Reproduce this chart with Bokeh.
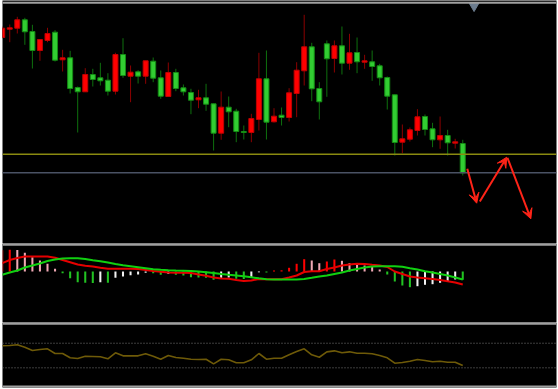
from bokeh.plotting import figure
from bokeh.layouts import column
from bokeh.models import Span, Arrow, VeeHead, ColumnDataSource
from bokeh.embed import file_html
from bokeh.resources import INLINE

# ---------------- data ----------------
opens = [213, 221.3, 222.3, 230.7, 219, 200, 210, 218.3, 190.7, 192.7,
         163, 158.7, 176, 172.7, 170.3, 159.3, 196, 174.3, 178.7, 174.3,
         189.3, 172.7, 154, 178, 162.7, 158, 150.7, 152.7, 146.7, 117.3,
         143.3, 139.3, 119, 118, 131, 171.7, 128.7, 135.3, 133, 157,
         179.7, 203.7, 162, 206.7, 192, 204.7, 187.3, 198, 188.3, 188.7,
         184.7, 173, 155.7, 108.3, 111.3, 120, 134, 121.7, 110.7, 115,
         107.3, 107]
closes = [222.3, 222.7, 230.7, 218.7, 200, 211, 217, 190.3, 192.7, 162,
          158.7, 176, 171, 169.7, 159.3, 196, 175, 178.3, 174.3, 189.7,
          172.3, 154.3, 178, 162, 158.7, 150.3, 152.7, 146.3, 117.3, 143.3,
          138.7, 119, 118, 132, 171.7, 128.3, 134.3, 133, 157.7, 180.3,
          203.7, 161.7, 148.7, 191.7, 204.7, 187.3, 197.7, 188.7, 189.7, 184,
          172.7, 154.3, 108, 111.7, 120.7, 133.7, 121, 110.7, 115, 107.7,
          108.7, 77.7]
highs = [224, 226, 233.7, 232.7, 225.7, 211, 222.7, 220.3, 200.7, 199.7,
         164, 182.3, 181.7, 187.7, 177.3, 197.7, 212.3, 185, 180.3, 189.7,
         193, 180, 188, 181.7, 166, 161.7, 160.7, 166.7, 147, 159,
         154, 141.7, 125, 136.7, 197.7, 200, 142.3, 143, 162.3, 188.3,
         235.7, 207.7, 168.3, 210, 210, 224, 216.7, 213, 195.7, 200,
         186.7, 174, 156, 126, 123, 141.3, 136, 127.7, 134, 120.7,
         111.7, 110.7]
lows = [212, 208.3, 217, 205.7, 182, 189.7, 208.3, 189, 179, 157,
        118, 158.7, 164, 165, 155, 156, 172.7, 148.3, 167, 166.7,
        168.3, 151.7, 154, 159.3, 155, 136.3, 142.3, 139.7, 100, 110.7,
        123.3, 108.3, 111, 108.3, 120, 111, 128, 125, 129, 133.3,
        165, 149.3, 131, 153.7, 178, 176, 180.7, 177.3, 181.7, 169.7,
        165, 141, 95, 97.3, 109, 115, 115, 103.3, 101.7, 95,
        102, 75]

support_level = 96.3

macd_hist = [21.3, 21.7, 21.5, 18.7, 14.3, 11, 7.7, 2.7, -1.7, -6.7,
             -10.7, -11.3, -11.5, -10.7, -11.3, -6.3, -5, -3.7, -3, -1.3,
             -1.7, -3.3, -2.3, -3.3, -4, -5.7, -6, -6.2, -8.3, -6.3,
             -6.0, -7.3, -7.5, -5.7, -0.8, -1.0, 1, 1.2, 3.7, 7.7,
             12.3, 11, 8.3, 10, 12, 10.7, 8.3, 7.7, 6, 5,
             2, -3, -10, -14, -15.7, -14.7, -13.3, -12.7, -11.3, -9.7,
             -8, -8.3]
macd_signal = [8.3, 11.5, 13.5, 15, 15, 15, 15, 13.7, 11.5, 9.3,
               7, 5.7, 5, 3.7, 2.7, 2.7, 2.7, 2.7, 2.5, 1.5,
               0.5, -0.2, -1, -1.3, -1.3, -1.5, -3, -4.3, -6, -7,
               -7.3, -8.5, -9.5, -9, -7.5, -7.7, -7.7, -7.7, -6, -4,
               -0.5, 0.3, 0.3, 2.5, 4, 6, 7, 7.7, 7.5, 6.7,
               6, 4.5, 0, -2.5, -5, -6, -6.7, -7.5, -8.5, -9.7,
               -11, -13]
macd_main = [-3.3, -1, 1, 4, 6, 8, 10.5, 12, 13, 13.3,
             13.3, 12.5, 11.3, 10.3, 9, 7.5, 6.3, 5.3, 4.3, 3.3,
             2.3, 1.7, 1.3, 1, 0.8, 0.5, 0, -0.7, -1.5, -2.5,
             -3.3, -4, -4.8, -5.8, -6.8, -7.7, -8, -8, -8, -8,
             -7.5, -6.3, -5, -4, -2.5, -1, 1, 2.5, 4, 5,
             5.2, 5.3, 5.3, 4.7, 3.3, 2, 0.3, -1, -2.5, -4,
             -6, -8]

rsi = [65.8, 66.3, 67.4, 63.5, 58.1, 59.8, 60.9, 53.3, 53.3, 46.3,
       45.1, 48.9, 48.4, 47.9, 44.6, 54.4, 49.5, 49.5, 49.5, 52.8,
       48.9, 44.0, 50.0, 46.7, 45.6, 44.0, 43.5, 44.0, 36.5, 44.0,
       43.0, 38.2, 38.2, 43.0, 53.3, 44.0, 45.6, 45.6, 51.1, 56.5,
       60.9, 51.1, 47.2, 56.0, 57.6, 54.4, 56.0, 53.7, 53.7, 52.8,
       50.0, 46.3, 37.5, 38.6, 40.7, 43.5, 41.9, 39.8, 40.7, 39.1,
       39.1, 33.7]
rsi_levels = [70, 30]

# drawn annotation arrows (bar index, price)
arrow_x0 = [61.6, 63.26, 66.92]
arrow_y0 = [81.7, 49.0, 92.7]
arrow_x1 = [62.85, 66.83, 70.02]
arrow_y1 = [47.3, 93.3, 31.7]

shift_marker_x = [62.5]
shift_marker_y = [244.7]

# ---------------- styling ----------------
BAR_PX = 7.55
X0 = (2 - 1.7) / BAR_PX
X1 = X0 + 554 / BAR_PX
SEP = "#a0a0a0"

idx = list(range(len(opens)))


def make_fig(h, yr, bottom=0):
    p = figure(width=558, height=h, x_range=(X0, X1), y_range=yr,
               output_backend="svg", toolbar_location=None,
               x_axis_type=None, y_axis_type=None,
               min_border_left=2, min_border_right=2,
               min_border_top=0, min_border_bottom=bottom,
               background_fill_color="black", border_fill_color="white",
               outline_line_color=None)
    return p


# ---------- price panel ----------
pA = make_fig(243, (7, 250))
up = [c > o for o, c in zip(opens, closes)]
src = ColumnDataSource(dict(
    x=idx, top=[max(o, c) for o, c in zip(opens, closes)],
    bottom=[min(o, c) for o, c in zip(opens, closes)],
    high=highs, low=lows,
    fill=["#ff0000" if u else "#32cd32" for u in up],
    edge=["#c00000" if u else "#148c14" for u in up],
    wick=["#8b0000" if u else "#0e700e" for u in up],
))
pA.segment(x0="x", y0="low", x1="x", y1="high", color="wick", line_width=1, source=src)
pA.vbar(x="x", width=0.66, top="top", bottom="bottom", fill_color="fill",
        line_color="edge", line_width=1, source=src)

pA.add_layout(Span(location=support_level, dimension="width", line_color="#8a8a10", line_width=1.6))
pA.add_layout(Span(location=closes[-1], dimension="width", line_color="#4a5264", line_width=1.4))
pA.add_layout(Span(location=247.8, dimension="width", line_color=SEP, line_width=2))

for xa, ya, xb, yb in zip(arrow_x0, arrow_y0, arrow_x1, arrow_y1):
    pA.add_layout(Arrow(x_start=xa, y_start=ya, x_end=xb, y_end=yb,
                        line_color="#ff2418", line_width=2,
                        end=VeeHead(size=10, fill_color="#ff2418", line_color="#ff2418")))

pA.scatter(shift_marker_x, shift_marker_y, marker="inverted_triangle", size=10,
           fill_color="#6c7c8e", line_color="#6c7c8e")

# ---------- MACD panel ----------
pB = make_fig(79, (-51, 28))
hcol = []
for i, h in enumerate(macd_hist):
    prev = macd_hist[i - 1] if i > 0 else None
    if h >= 0:
        hcol.append("#ff0000" if prev is None or h >= prev else "#f0a8b4")
    else:
        hcol.append("#22c322" if prev is None or h < prev else "#f2f2f2")
pB.vbar(x=idx, width=0.27, top=macd_hist, bottom=0, fill_color=hcol, line_color=None)
pB.line(idx, macd_signal, line_color="#e60000", line_width=2)
pB.line(idx, macd_main, line_color="#10d010", line_width=2)
pB.add_layout(Span(location=26.7, dimension="width", line_color=SEP, line_width=2))

# ---------- RSI panel ----------
pC = make_fig(67, (-2.0, 103.7), bottom=2)
for lv in rsi_levels:
    pC.add_layout(Span(location=lv, dimension="width", line_color="#7a7a7a",
                       line_width=1, line_dash="1 2"))
pC.line(idx, rsi, line_color="#6e5a08", line_width=1.6)
pC.add_layout(Span(location=101.6, dimension="width", line_color=SEP, line_width=2))
pC.add_layout(Span(location=-0.4, dimension="width", line_color=SEP, line_width=2))

layout = column(pA, pB, pC, spacing=0)
open("out.html", "w").write(file_html(layout, INLINE))
